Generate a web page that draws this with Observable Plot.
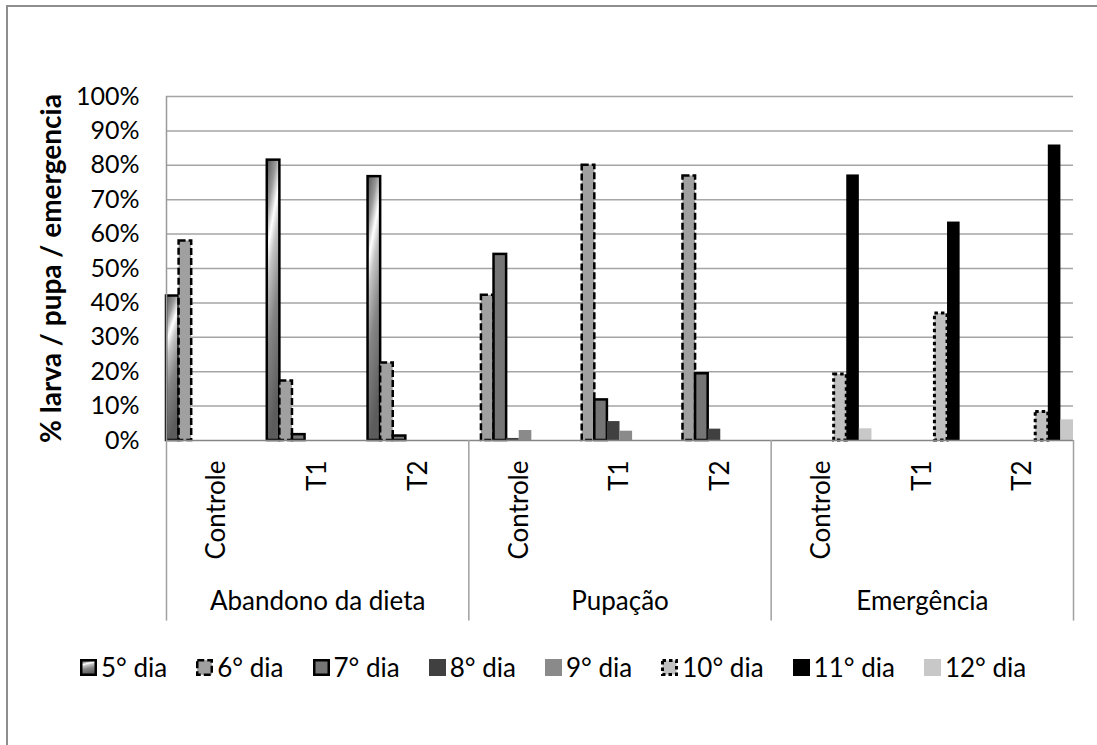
<!DOCTYPE html>
<html>
<head>
<meta charset="utf-8">
<script src="https://cdn.jsdelivr.net/npm/d3@7"></script>
<script src="https://cdn.jsdelivr.net/npm/@observablehq/plot@0.6"></script>
<style>
  html, body { margin: 0; padding: 0; background: #fff; overflow: hidden; }
  body { width: 1097px; height: 745px; position: relative; font-family: Lato, "Open Sans", sans-serif; }
  #frame { position: absolute; left: 6px; top: 5px; width: 1300px; height: 900px;
           border-left: 2px solid #8e8e8e; border-top: 2px solid #8e8e8e; }
  #chart { position: absolute; left: 0; top: 0; }
  #legend { position: absolute; left: 80px; top: 652px; height: 30px; display: flex;
            justify-content: flex-start; align-items: center; font-size: 26px; color: #000; }
  .item { display: flex; align-items: center; margin-right: 29px; white-space: nowrap; }
  .item svg { margin-right: 4px; overflow: visible; }
</style>
</head>
<body>
<div id="frame"></div>
<div id="chart"></div>
<div id="legend"></div>
<script>
// Categories
const groups = ["Abandono da dieta", "Pupação", "Emergência"];
const treatments = ["Controle", "T1", "T2"];
const days = ["5° dia", "6° dia", "7° dia", "8° dia", "9° dia", "10° dia", "11° dia", "12° dia"];

// Percentages per day, in order: Abandono (Controle, T1, T2), Pupação (...), Emergência (...)
const dia5  = [42.0, 81.5, 76.7, 0,    0,    0,    0,    0,    0];
const dia6  = [58.0, 17.3, 22.5, 42.2, 80.0, 76.9, 0,    0,    0];
const dia7  = [0,    1.7,  1.3,  54.1, 11.8, 19.4, 0,    0,    0];
const dia8  = [0,    0,    0,    0.6,  5.5,  3.3,  0,    0,    0];
const dia9  = [0,    0,    0,    2.9,  2.7,  0,    0,    0,    0];
const dia10 = [0,    0,    0,    0,    0,    0,    19.2, 36.9, 8.3];
const dia11 = [0,    0,    0,    0,    0,    0,    77.2, 63.5, 85.9];
const dia12 = [0,    0,    0,    0,    0,    0,    3.4,  0,    6.0];
const seriesValues = [dia5, dia6, dia7, dia8, dia9, dia10, dia11, dia12];

const yTicks = [0, 10, 20, 30, 40, 50, 60, 70, 80, 90, 100];
const yTitle = "% larva / pupa / emergencia";

// Bar appearance for each day
const dayStyles = [
  {fill: "url(#dia5-gradient)", stroke: "#000", strokeWidth: 2.5},
  {fill: "#a0a0a0", stroke: "#000", strokeWidth: 2.5, dash: "7,3"},
  {fill: "#757575", stroke: "#000", strokeWidth: 2.5},
  {fill: "#404040"},
  {fill: "#8a8a8a"},
  {fill: "#c0c0c0", stroke: "#000", strokeWidth: 3, dash: "3.5,3"},
  {fill: "#000000"},
  {fill: "#c8c8c8"}
];

// Long table: one row per (category, day)
const categories = [];
groups.forEach((g, gi) => treatments.forEach((t, ti) => categories.push({group: g, treatment: t, ci: gi * 3 + ti})));
const nDays = days.length;
const bars = [];
seriesValues.forEach((vals, di) => vals.forEach((v, ci) => bars.push({
  day: days[di], di, ci, group: categories[ci].group, treatment: categories[ci].treatment, value: v
})));

const axisFloor = -52.5; // depth of the category axis band, in y units

const svgNS = "http://www.w3.org/2000/svg";
function gradientDefs() {
  const defs = document.createElementNS(svgNS, "defs");
  const lg = document.createElementNS(svgNS, "linearGradient");
  lg.setAttribute("id", "dia5-gradient");
  lg.setAttribute("x1", "0"); lg.setAttribute("y1", "0");
  lg.setAttribute("x2", "0.25"); lg.setAttribute("y2", "1");
  [[0, "#555555"], [0.18, "#9a9a9a"], [0.31, "#ffffff"], [0.42, "#c4c4c4"], [0.65, "#858585"], [1, "#5c5c5c"]]
    .forEach(([o, c]) => {
      const s = document.createElementNS(svgNS, "stop");
      s.setAttribute("offset", o); s.setAttribute("stop-color", c);
      lg.appendChild(s);
    });
  defs.appendChild(lg);
  return defs;
}

const barMarks = days.map((d, di) => {
  const st = dayStyles[di];
  return Plot.rect(bars.filter(b => b.di === di && b.value > 0), {
    x1: b => b.ci + b.di / nDays,
    x2: b => b.ci + (b.di + 1) / nDays,
    y1: 0,
    y2: "value",
    inset: 0,
    fill: st.fill,
    stroke: st.stroke || "none",
    strokeWidth: st.strokeWidth || 0,
    strokeDasharray: st.dash
  });
});

const chart = Plot.plot({
  width: 1097,
  height: 625,
  marginLeft: 166,
  marginRight: 24,
  marginTop: 96,
  marginBottom: 185,
  style: {fontFamily: "Lato, 'Open Sans', sans-serif", fontSize: "25px", color: "#000", background: "transparent", overflow: "visible"},
  x: {domain: [0, 9], axis: null},
  y: {domain: [0, 100], ticks: yTicks, tickFormat: d => d + "%", tickSize: 0, tickPadding: 27, label: null},
  marks: [
    gradientDefs,
    Plot.ruleY(yTicks.filter(t => t > 0), {x1: 0, x2: 9, stroke: "#a5a5a5", strokeWidth: 1.5}),
    ...barMarks,
    Plot.ruleY([0], {x1: 0, x2: 9, stroke: "#868686", strokeWidth: 1.5}),
    Plot.ruleX([0], {y1: 0, y2: 100, stroke: "#9a9a9a", strokeWidth: 1.5}),
    Plot.ruleX([0, 3, 6, 9], {y1: 0, y2: axisFloor, stroke: "#a0a0a0", strokeWidth: 1.5}),
    Plot.text(categories, {x: d => d.ci + 0.5, y: 0, text: "treatment", rotate: -90, textAnchor: "end",
      lineAnchor: "middle", dy: 20, fontSize: 26}),
    Plot.text(groups, {x: (d, i) => i * 3 + 1.5, y: 0, text: d => d, lineAnchor: "middle", dy: 161, fontSize: 26}),
    Plot.text([yTitle], {frameAnchor: "left", rotate: -90, dx: -114, text: d => d, fontWeight: "bold",
      textAnchor: "middle", lineAnchor: "middle", fontSize: 28})
  ]
});
document.getElementById("chart").appendChild(chart);

// Legend
const legend = document.getElementById("legend");
days.forEach((d, di) => {
  const st = dayStyles[di];
  const item = document.createElement("div");
  item.className = "item";
  const sw = document.createElementNS(svgNS, "svg");
  sw.setAttribute("width", 17); sw.setAttribute("height", 17);
  const r = document.createElementNS(svgNS, "rect");
  const sWidth = st.stroke ? st.strokeWidth : 0;
  r.setAttribute("x", sWidth / 2); r.setAttribute("y", sWidth / 2);
  r.setAttribute("width", 17 - sWidth); r.setAttribute("height", 17 - sWidth);
  r.setAttribute("fill", st.fill);
  if (st.stroke) {
    r.setAttribute("stroke", st.stroke);
    r.setAttribute("stroke-width", st.strokeWidth);
    if (st.dash) r.setAttribute("stroke-dasharray", st.dash);
  }
  sw.appendChild(r);
  const label = document.createElement("span");
  label.textContent = d;
  item.appendChild(sw);
  item.appendChild(label);
  legend.appendChild(item);
});
</script>
</body>
</html>
